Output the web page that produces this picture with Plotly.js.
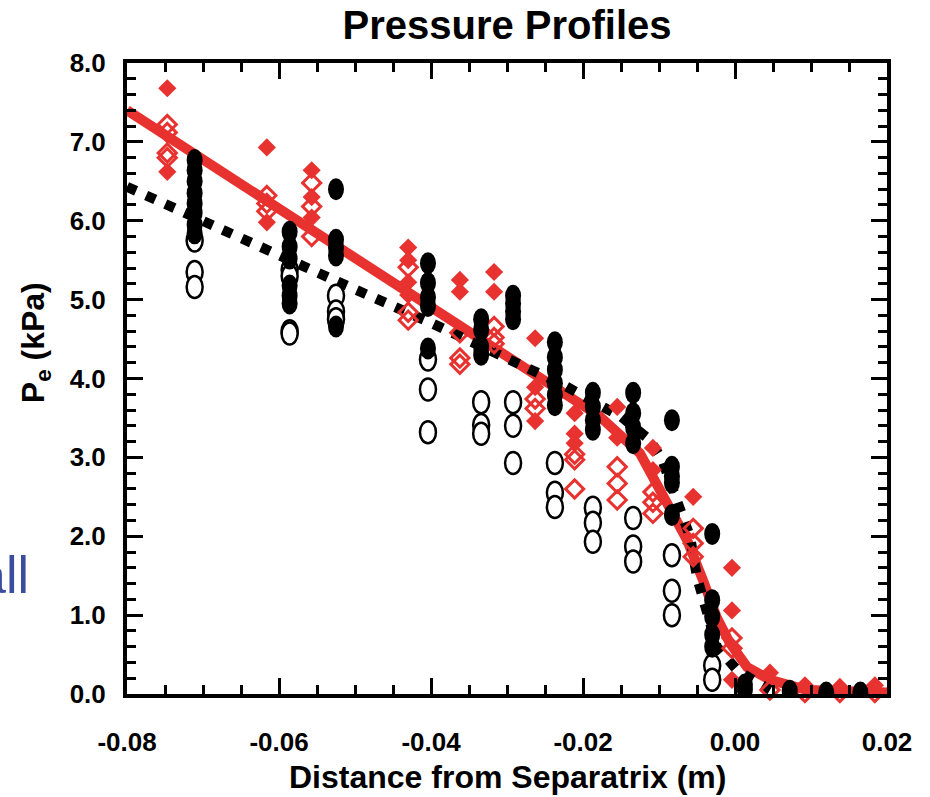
<!DOCTYPE html>
<html><head><meta charset="utf-8">
<script src="https://cdn.plot.ly/plotly-3.0.1.min.js"></script>
<style>html,body{margin:0;padding:0;background:#fff}#chart{width:930px;height:797px}</style>
</head><body><div id="chart"></div>
<script>
// ---- data ----
const fitX = [-0.0800, -0.0467, -0.0309, -0.0253, -0.0178, -0.0151, -0.0125, -0.0108, -0.0086, -0.0063, -0.0042, -0.0024, -0.0007, 0.0016, 0.0046, 0.0095, 0.0200];
const fitY = [7.40, 5.34, 4.36, 3.98, 3.52, 3.28, 3.05, 2.75, 2.33, 1.95, 1.44, 0.97, 0.65, 0.34, 0.18, 0.05, 0.02];

const dashX = [-0.0800, -0.0697, -0.0599, -0.0500, -0.0401, -0.0303, -0.0226, -0.0149, -0.0112, -0.0096, -0.0075, -0.0059, -0.0050, -0.0024, 0.0003, 0.0046];
const dashY = [6.43, 5.98, 5.54, 5.13, 4.71, 4.27, 3.92, 3.51, 3.22, 2.97, 2.46, 1.99, 1.48, 0.60, 0.30, 0.05];

const redFilledX = [-0.0803, -0.0747, -0.0747, -0.0616, -0.0616, -0.0557, -0.0557, -0.0557,
  -0.0430, -0.0430, -0.0430, -0.0430, -0.0362, -0.0362, -0.0317, -0.0317,
  -0.0263, -0.0263, -0.0263, -0.0211, -0.0211, -0.0211, -0.0155, -0.0155,
  -0.0108, -0.0108, -0.0055, -0.0004, -0.0004, -0.0004, 0.0046, 0.0092, 0.0138, 0.0184];
const redFilledY = [7.38, 7.68, 6.62, 6.93, 5.98, 6.64, 6.30, 6.04,
  5.66, 5.50, 5.22, 5.06, 5.25, 5.10, 5.35, 5.10,
  4.51, 3.89, 3.46, 3.56, 3.30, 3.18, 3.64, 3.25,
  3.12, 2.84, 2.50, 1.60, 1.06, 0.18, 0.27, 0.11, 0.09, 0.11];

const redOpenX = [-0.0747, -0.0747, -0.0747, -0.0747, -0.0616, -0.0616, -0.0616, -0.0557, -0.0557, -0.0557,
  -0.0430, -0.0430, -0.0430, -0.0362, -0.0362, -0.0362, -0.0317, -0.0317, -0.0317,
  -0.0263, -0.0263, -0.0211, -0.0211, -0.0211, -0.0155, -0.0155, -0.0155,
  -0.0108, -0.0108, -0.0108, -0.0055, -0.0055, -0.0055, -0.0004, -0.0004, 0.0046, 0.0092, 0.0138, 0.0184];
const redOpenY = [7.22, 7.12, 6.86, 6.80, 6.32, 6.22, 6.12, 6.48, 6.18, 5.80,
  5.41, 4.84, 4.74, 4.58, 4.26, 4.18, 4.66, 4.52, 4.44,
  3.74, 3.62, 3.04, 2.97, 2.60, 2.88, 2.67, 2.46,
  2.56, 2.43, 2.29, 2.10, 1.91, 1.74, 0.71, 0.58, 0.05, 0.02, 0.02, 0.02];

const blackFilledX = [-0.0711, -0.0711, -0.0711, -0.0711, -0.0711, -0.0711, -0.0711, -0.0711,
  -0.0586, -0.0586, -0.0586, -0.0586, -0.0586, -0.0586,
  -0.0525, -0.0525, -0.0525, -0.0525, -0.0525,
  -0.0404, -0.0404, -0.0404, -0.0404, -0.0404,
  -0.0334, -0.0334, -0.0334, -0.0334,
  -0.0292, -0.0292, -0.0292, -0.0292,
  -0.0237, -0.0237, -0.0237, -0.0237, -0.0237, -0.0237,
  -0.0187, -0.0187, -0.0187, -0.0187,
  -0.0134, -0.0134, -0.0134, -0.0134,
  -0.0083, -0.0083, -0.0083, -0.0083, -0.0083,
  -0.0030, -0.0030, -0.0030, -0.0030, -0.0030,
  0.0013, 0.0013, 0.0072, 0.0120, 0.0165];
const blackFilledY = [6.77, 6.64, 6.50, 6.35, 6.22, 6.10, 5.95, 5.84,
  5.86, 5.67, 5.52, 5.18, 5.05, 4.95,
  6.40, 5.76, 5.66, 5.56, 4.66,
  5.46, 5.21, 5.03, 4.92, 4.38,
  4.75, 4.62, 4.40, 4.30,
  5.05, 4.95, 4.85, 4.75,
  4.46, 4.27, 4.11, 3.94, 3.79, 3.66,
  3.82, 3.64, 3.47, 3.35,
  3.82, 3.56, 3.38, 3.18,
  3.47, 2.88, 2.76, 2.68, 2.27,
  2.03, 1.19, 0.98, 0.75, 0.60,
  0.12, 0.06, 0.04, 0.02, 0.02];

const blackOpenX = [-0.0711, -0.0711, -0.0711, -0.0586, -0.0586, -0.0586, -0.0586,
  -0.0525, -0.0525, -0.0525, -0.0404, -0.0404, -0.0404, -0.0334, -0.0334, -0.0334,
  -0.0292, -0.0292, -0.0292, -0.0237, -0.0237, -0.0237, -0.0187, -0.0187, -0.0187,
  -0.0134, -0.0134, -0.0134, -0.0083, -0.0083, -0.0083, -0.0030, -0.0030];
const blackOpenY = [5.75, 5.35, 5.16, 5.38, 5.30, 4.60, 4.57,
  5.05, 4.85, 4.75, 4.24, 3.86, 3.32, 3.70, 3.41, 3.30,
  3.70, 3.40, 2.93, 2.93, 2.55, 2.37, 2.36, 2.17, 1.93,
  2.23, 1.87, 1.68, 1.76, 1.31, 1.00, 0.36, 0.18];

const xTickVals = [-0.08, -0.06, -0.04, -0.02, 0.00, 0.02];
const xTickText = ['-0.08', '-0.06', '-0.04', '-0.02', '0.00', '0.02'];
const yTickVals = [0, 1, 2, 3, 4, 5, 6, 7, 8];
const yTickText = ['0.0', '1.0', '2.0', '3.0', '4.0', '5.0', '6.0', '7.0', '8.0'];

// ---- styles ----
const RED = '#e8322f';
const FONT = 'Liberation Sans, Arial, Helvetica, sans-serif';

const traces = [
  {x: fitX, y: fitY, mode: 'lines', line: {color: RED, width: 10}, hoverinfo: 'skip'},
  {x: dashX, y: dashY, mode: 'lines', line: {color: '#000', width: 10, dash: '10px,11px'}, hoverinfo: 'skip'},
  {x: redOpenX, y: redOpenY, mode: 'markers', cliponaxis: false,
   marker: {symbol: 'diamond-open', size: 14, color: RED, line: {color: RED, width: 3}}},
  {x: redFilledX, y: redFilledY, mode: 'markers', cliponaxis: false,
   marker: {symbol: 'diamond', size: 14, color: RED, line: {width: 0}}}
];

function ovals(xs, ys, filled) {
  return xs.map((x, i) => ({
    type: 'circle', xref: 'x', yref: 'y', xsizemode: 'pixel', ysizemode: 'pixel',
    xanchor: x, yanchor: ys[i], x0: -8, x1: 8, y0: -11, y1: 11,
    fillcolor: filled ? '#000' : '#fff',
    line: {color: '#000', width: filled ? 0 : 2.5}, layer: 'above'
  }));
}
const shapes = ovals(blackOpenX, blackOpenY, false).concat(ovals(blackFilledX, blackFilledY, true));

const axisCommon = {
  showgrid: false, zeroline: false, showline: true, linecolor: '#000', linewidth: 4,
  mirror: 'ticks', ticks: 'inside', tickcolor: '#000', tickwidth: 3, ticklen: 16,
  tickmode: 'array',
  tickfont: {family: FONT, size: 26, color: '#000', weight: 'bold'}
};

const layout = {
  width: 930, height: 797,
  margin: {l: 127, r: 43, t: 63, b: 103},
  paper_bgcolor: '#fff', plot_bgcolor: '#fff',
  showlegend: false,
  title: {text: 'Pressure Profiles', font: {family: FONT, size: 40, color: '#000', weight: 'bold'},
          xref: 'paper', x: 0.5, xanchor: 'center', yref: 'container', y: 0.969, yanchor: 'middle'},
  xaxis: Object.assign({}, axisCommon, {
    range: [-0.08, 0.02], tickvals: xTickVals, ticktext: xTickText, ticklabelstandoff: 22,
    minor: {dtick: 0.005, tick0: 0, ticks: 'inside', ticklen: 9, tickwidth: 3, tickcolor: '#000', showgrid: false}
  }),
  yaxis: Object.assign({}, axisCommon, {
    range: [0, 8], tickvals: yTickVals, ticktext: yTickText, ticklabelstandoff: 12,
    minor: {dtick: 0.2, tick0: 0, ticks: 'inside', ticklen: 9, tickwidth: 3, tickcolor: '#000', showgrid: false}
  }),
  shapes: shapes,
  annotations: [
    {text: 'Distance from Separatrix (m)', xref: 'paper', yref: 'paper', x: 0.5, y: -0.1315,
     xanchor: 'center', yanchor: 'middle', showarrow: false,
     font: {family: FONT, size: 32, color: '#000', weight: 'bold'}},
    {text: 'P<sub>e</sub> (kPa)', xref: 'paper', yref: 'paper', x: -0.121, y: 0.556, textangle: -90,
     xanchor: 'center', yanchor: 'middle', showarrow: false,
     font: {family: FONT, size: 32, color: '#000', weight: 'bold'}},
    {text: 'all', xref: 'paper', yref: 'paper', x: -0.126, y: 0.1886,
     xanchor: 'right', yanchor: 'middle', showarrow: false,
     font: {family: FONT, size: 52, color: '#3a4d9f'}}
  ]
};

Plotly.newPlot('chart', traces, layout, {staticPlot: true, displayModeBar: false});
</script>
</body></html>
